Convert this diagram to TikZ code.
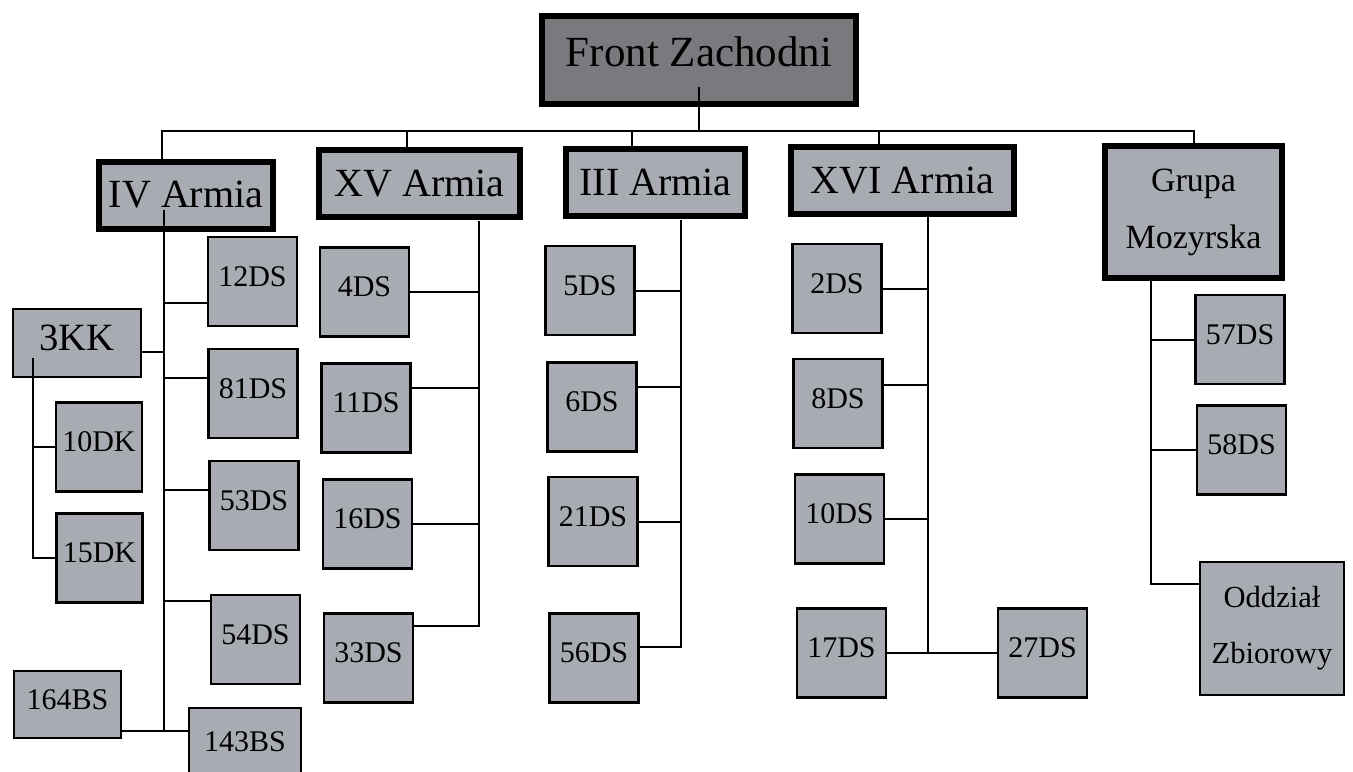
\documentclass[tikz,border=0pt]{standalone}
\usepackage{fontspec}
\setmainfont{Liberation Serif}
\usepackage{xcolor}
\usepackage{tikz}

\definecolor{boxgrey}{RGB}{168,172,178}
\definecolor{topgrey}{RGB}{120,122,126}

\begin{document}
\begin{tikzpicture}[x=0.5pt,y=-0.5pt,line width=1pt,
    front node/.style={rectangle,draw,line width=3pt,fill=topgrey,inner sep=0pt,minimum width=157pt,minimum height=44pt,text depth=8pt,font=\fontsize{21.5}{24}\selectfont},
    army node/.style={rectangle,draw,line width=3pt,fill=boxgrey,inner sep=0pt,minimum height=33.5pt,font=\fontsize{20}{24}\selectfont},
    unit node/.style={rectangle,draw,line width=1.2pt,fill=boxgrey,inner sep=0pt,minimum width=44.5pt,minimum height=44.5pt,text depth=5pt,font=\fontsize{15}{18}\selectfont},
    elbow/.style={to path={|- (\tikztotarget)}},
    drop/.style={to path={-| (\tikztotarget)}}]

  \useasboundingbox (0,0) rectangle (1353,771);
  \clip (0,0) rectangle (1353,771);

  % command
  \node[front node] (front) at (699,60) {Front Zachodni};

  % armies
  \node[army node,minimum width=87pt] (iv) at (186,195) {IV Armia};
  \node[army node,minimum width=100.5pt] (xv) at (419.5,183.5) {XV Armia};
  \node[army node,minimum width=89.5pt] (iii) at (655.5,182) {III Armia};
  \node[army node,minimum width=111.5pt] (xvi) at (902.5,180.5) {XVI Armia};
  \node[army node,minimum width=88.5pt,minimum height=66pt,align=center,font=\fontsize{17}{28.5}\selectfont] (grupa) at (1193.5,212) {Grupa\\Mozyrska};

  % IV Armia
  \node[unit node] (12ds) at (252.5,281.5) {12DS};
  \node[unit node] (81ds) at (253,393.5) {81DS};
  \node[unit node] (53ds) at (254,505.5) {53DS};
  \node[unit node] (54ds) at (255.5,639.5) {54DS};
  \node[unit node,minimum width=56pt,minimum height=39pt] (143bs) at (245,747) {143BS};
  \node[unit node,minimum width=64pt,minimum height=34pt,font=\fontsize{19.3}{22}\selectfont] (3kk) at (77,343) {3KK};
  \node[unit node,minimum width=43pt] (10dk) at (99,447) {10DK};
  \node[unit node,minimum width=43pt] (15dk) at (99.5,558) {15DK};
  \node[unit node,minimum width=53.5pt,minimum height=33.5pt] (164bs) at (67.5,704.5) {164BS};

  % XV Armia
  \node[unit node] (4ds) at (364.5,292) {4DS};
  \node[unit node] (11ds) at (366,408) {11DS};
  \node[unit node] (16ds) at (367.5,524) {16DS};
  \node[unit node] (33ds) at (368.5,658) {33DS};

  % III Armia
  \node[unit node] (5ds) at (590,290.5) {5DS};
  \node[unit node] (6ds) at (592,407) {6DS};
  \node[unit node] (21ds) at (593,521.5) {21DS};
  \node[unit node] (56ds) at (594,658) {56DS};

  % XVI Armia
  \node[unit node] (2ds) at (837,288.5) {2DS};
  \node[unit node] (8ds) at (838,403.5) {8DS};
  \node[unit node] (10ds) at (839.5,519) {10DS};
  \node[unit node] (17ds) at (841.5,653) {17DS};
  \node[unit node] (27ds) at (1042.5,653) {27DS};

  % Grupa Mozyrska
  \node[unit node] (57ds) at (1240,339.5) {57DS};
  \node[unit node] (58ds) at (1241.5,450) {58DS};
  \node[unit node,text depth=,minimum width=72pt,minimum height=66.5pt,align=center,font=\fontsize{15.3}{28}\selectfont] (odz) at (1272,628.5) {Oddział\\Zbiorowy};

  \coordinate (bus) at (699,131);
  \coordinate (ivtop) at (164,210);
  \coordinate (kktop) at (33,358);
  \coordinate (xvtop) at (479,221);
  \coordinate (iiitop) at (681,220);
  \coordinate (xvitop) at (928,217);
  \coordinate (grtop) at (1151,275);

  \path ([yshift=10pt]front.south) edge (bus)
    (bus) edge[drop] ([xshift=-12pt]iv.north)
          edge[drop] ([xshift=-6.25pt]xv.north)
          edge[drop] ([xshift=-11.75pt]iii.north)
          edge[drop] ([xshift=-11.75pt]xvi.north)
          edge[drop] (grupa.north)
    (ivtop) edge[elbow] ([yshift=-10.75pt]12ds.west)
            edge[elbow] ([yshift=7.75pt]81ds.west)
            edge[elbow] ([yshift=7.75pt]53ds.west)
            edge[elbow] ([yshift=19.25pt]54ds.west)
            edge[elbow] ([yshift=8pt]143bs.west)
            edge[elbow] ([yshift=-4.5pt]3kk.east)
            edge[elbow] ([yshift=-13.25pt]164bs.east)
    (kktop) edge[elbow] (10dk.west)
            edge[elbow] (15dk.west)
    (xvtop) edge[elbow] (4ds.east)
            edge[elbow] ([yshift=10pt]11ds.east)
            edge[elbow] (16ds.east)
            edge[elbow] ([yshift=16pt]33ds.east)
    (iiitop) edge[elbow] (5ds.east)
             edge[elbow] ([yshift=10pt]6ds.east)
             edge[elbow] (21ds.east)
             edge[elbow] ([yshift=5.5pt]56ds.east)
    (xvitop) edge[elbow] (2ds.east)
             edge[elbow] ([yshift=9.25pt]8ds.east)
             edge[elbow] (10ds.east)
             edge[elbow] (17ds.east)
             edge[elbow] (27ds.west)
    (grtop) edge[elbow] (57ds.west)
            edge[elbow] (58ds.west)
            edge[elbow] ([yshift=22.25pt]odz.west)
    ;
\end{tikzpicture}
\end{document}
